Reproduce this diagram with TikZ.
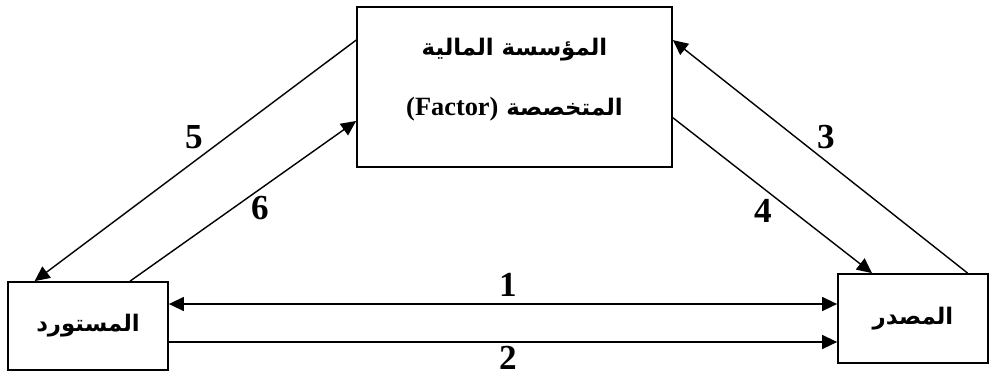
\documentclass[tikz,border=0pt]{standalone}
\usepackage{fontspec}
\setmainfont{Liberation Serif}
\newfontfamily\arabicfont[Script=Arabic]{DejaVu Sans}
\TeXXeTstate=1
\usetikzlibrary{positioning, arrows.meta, calc}

\begin{document}
\begin{tikzpicture}[
    x=0.2mm, y=-0.2mm,
    >={Triangle[length=3mm, width=2.8mm]},
    party/.style={
        rectangle, draw=black, line width=1pt,
        inner sep=0pt, align=center,
        font=\arabicfont\bfseries\fontsize{13pt}{34pt}\selectfont
    },
    flow/.style={->, line width=0.8pt},
    num/.style={font=\bfseries\fontsize{20pt}{24pt}\selectfont, inner sep=0pt},
]
\useasboundingbox (0,0) rectangle (989,378);

% ---------- Parties ----------
\node[party, minimum width=63mm, minimum height=32mm, text depth=12pt] (factor) at (514.5,87) {%
    \beginR المؤسسة المالية\endR\\%
    \beginR المتخصصة \beginL{\rmfamily\fontsize{15pt}{34pt}\selectfont(Factor)}\endL\endR};
\node[party, minimum width=32mm, minimum height=17.6mm] (importer) at (88,326) {\beginR المستورد\endR};
\node[party, minimum width=30mm, minimum height=17.8mm] (exporter) at (913,318.5) {\beginR المصدر\endR};

% ---------- Arrows ----------
\coordinate (row1) at (0,304);
\coordinate (row2) at (0,342);
\draw[flow, <->] (importer.east |- row1) -- (exporter.west |- row1);
\draw[flow] (importer.east |- row2) -- (exporter.west |- row2);

\draw[flow] ($(factor.north west)!0.21!(factor.south west)$) -- ($(importer.north west)!0.17!(importer.north east)$);
\draw[flow] ($(importer.north west)!0.76!(importer.north east)$) -- ($(factor.north west)!0.71!(factor.south west)$);
\draw[flow] ($(exporter.north west)!0.86!(exporter.north east)$) -- ($(factor.north east)!0.21!(factor.south east)$);
\draw[flow] ($(factor.north east)!0.69!(factor.south east)$) -- ($(exporter.north west)!0.23!(exporter.north east)$);

% ---------- Step numbers ----------
\node[num] (n1) at (508,285) {1};
\node[num] (n2) at (508,358) {2};
\node[num] (n3) at (826,137) {3};
\node[num] (n4) at (763,211) {4};
\node[num] (n5) at (194,137) {5};
\node[num] (n6) at (260,208) {6};

\end{tikzpicture}
\end{document}
